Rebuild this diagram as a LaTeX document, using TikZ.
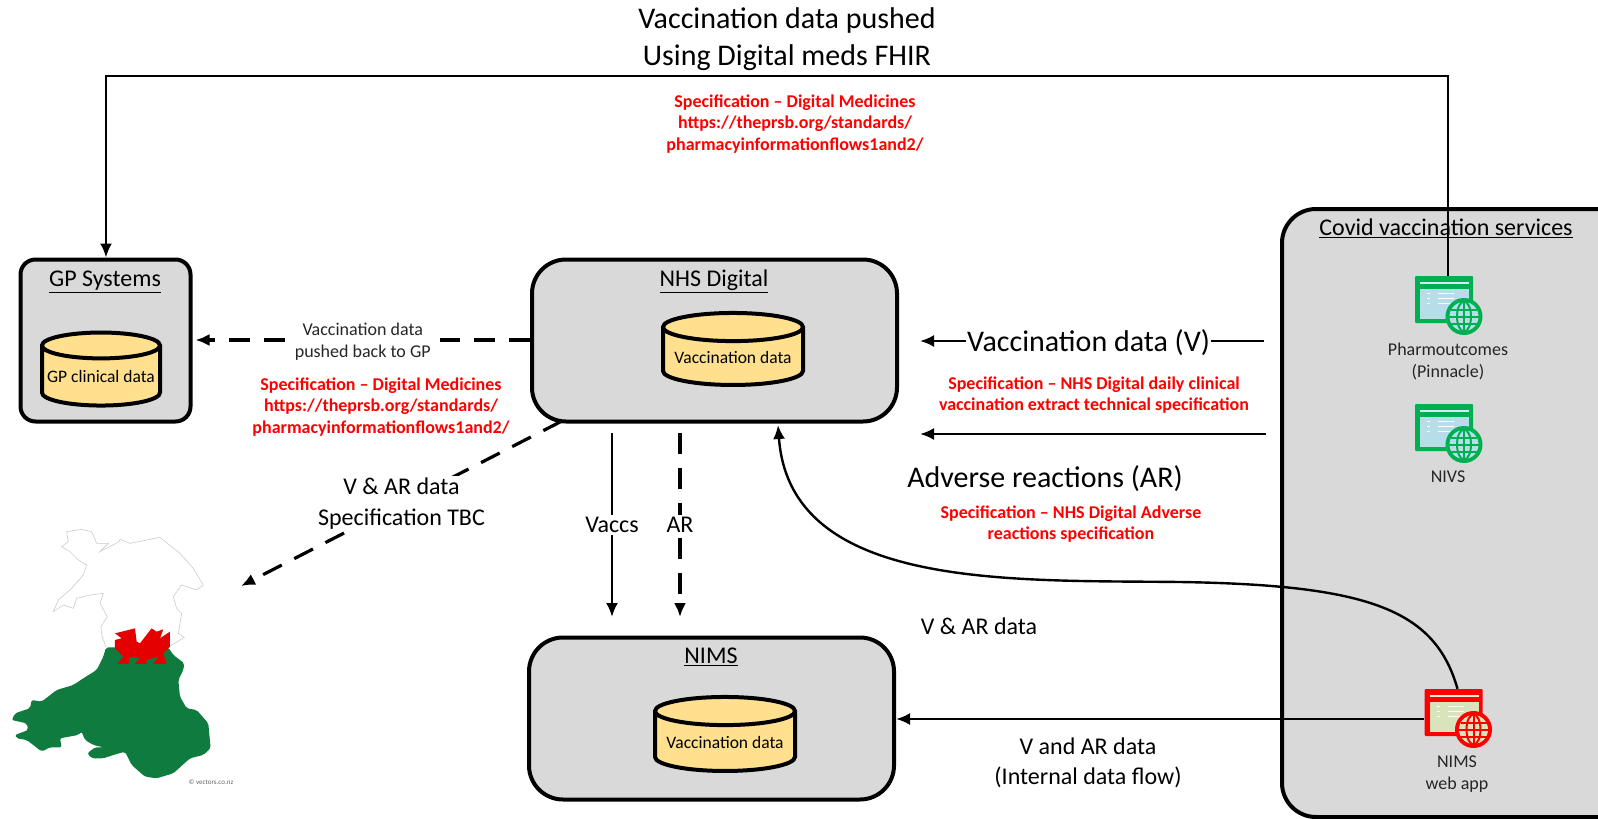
\documentclass[tikz,border=0pt]{standalone}
\usepackage{fontspec}
\setmainfont{Carlito}
\usetikzlibrary{arrows.meta}
\usetikzlibrary{shapes}
\definecolor{boxgrey}{HTML}{D9D9D9}
\definecolor{dbyellow}{HTML}{FFE08F}
\definecolor{appgreen}{HTML}{00B050}
\definecolor{panegreen}{HTML}{B6DDE8}
\definecolor{panered}{HTML}{D8E4BC}
\definecolor{walesgreen}{HTML}{0F7B3E}
\tikzset{
    sysbox/.style={draw, line width=4pt, fill=boxgrey, inner sep=0pt},
    dbstore/.style={draw, line width=4pt, fill=dbyellow, shape=cylinder, shape border rotate=90, shape aspect=0.24, inner sep=0pt, font=\fontsize{17.5}{21}\selectfont},
    boxtitle/.style={font=\fontsize{24}{28}\selectfont},
    smalltext/.style={align=center, font=\fontsize{18}{22}\selectfont, inner sep=1pt, text=black!85},
    midtext/.style={align=center, font=\fontsize{24}{31}\selectfont, inner sep=2pt},
    bigtext/.style={align=center, font=\fontsize{30}{37}\selectfont, inner sep=2pt},
    spectext/.style={align=center, text=red, font=\bfseries\fontsize{18}{21.5}\selectfont},
    flow/.style={-{Latex[length=14pt,width=12pt]}, line width=2.4pt},
    dashflow/.style={-{Latex[length=14pt,width=12pt]}, line width=3.2pt, dash pattern=on 21pt off 14pt},
}
% web application icon: name, x, y, colour, pane colour
\newcommand{\webicon}[5]{
    \node[rectangle, fill=#4, minimum width=58pt, minimum height=47pt, inner sep=0pt, rounded corners=1pt] (#1) at (#2,#3) {};
    \begin{scope}[shift={(#2,#3)}]
        \fill[#5] (-24,-11) rectangle (25,19);
        \fill[#5!60!white] (-24,-18) rectangle (25,-16);
        \fill[white] (-6,-7) rectangle (10,-6);
        \fill[white] (-6,-2) rectangle (10,-1);
        \fill[white] (-6,3) rectangle (10,4);
        \fill[white] (-17,-7) rectangle (-14,-6);
        \fill[white] (-17,-2) rectangle (-14,-1);
        \fill[white] (-17,3) rectangle (-14,4);
        % globe
        \fill[#4] (20,17) circle (18.5);
        \fill[#5] (20,17) circle (14.5);
        \draw[#4, line width=2pt] (20,17) ellipse (7 and 15);
        \draw[#4, line width=2pt] (20,2) -- (20,32);
        \draw[#4, line width=2pt] (5,17) -- (35,17);
        \draw[#4, line width=2pt] (7,10) -- (33,10);
        \draw[#4, line width=2pt] (7,24) -- (33,24);
    \end{scope}
}
\begin{document}
\begin{tikzpicture}[x=1pt,y=-1pt]
    \useasboundingbox (0,0) rectangle (1598,819);
    \clip (0,0) rectangle (1598,819);
    \fill[white] (0,0) rectangle (1598,819);

    % The system boxes
    \node[sysbox, rounded corners=15pt, minimum width=170pt, minimum height=162pt] (gpbox) at (105.5,340.5) {};
    \node[sysbox, rounded corners=34pt, minimum width=365pt, minimum height=162pt] (nhsbox) at (714.5,340.5) {};
    \node[sysbox, rounded corners=34pt, minimum width=365pt, minimum height=162pt] (nimsbox) at (711.5,718.5) {};
    \node[sysbox, rounded corners=34pt, minimum width=364pt, minimum height=608pt] (covidbox) at (1464,513) {};

    % The box titles
    \node[boxtitle] (gptitle) at (105,282) {\underline{GP Systems}};
    \node[boxtitle] (nhstitle) at (714,281) {\underline{NHS Digital}};
    \node[boxtitle] (nimstitle) at (711,657) {\underline{NIMS}};
    \node[boxtitle] (covidtitle) at (1446,228) {\underline{Covid vaccination services}};

    % The data stores
    \node[dbstore, minimum width=118pt, minimum height=73pt] (gpdata) at (101,376.5) {GP clinical data};
    \node[dbstore, minimum width=140pt, minimum height=72pt] (nhsdata) at (733,357) {Vaccination data};
    \node[dbstore, minimum width=140pt, minimum height=74pt] (nimsdata) at (725,742) {Vaccination data};

    % The web apps
    \webicon{pharmapp}{1444}{299.5}{appgreen}{panegreen}
    \webicon{nivsapp}{1444}{427.5}{appgreen}{panegreen}
    \webicon{nimsapp}{1453.5}{712.5}{red}{panered}
    \node[smalltext] (pharmlabel) at (1448,361) {Pharmoutcomes\\(Pinnacle)};
    \node[smalltext] (nivslabel) at (1448,477) {NIVS};
    \node[smalltext] (nimslabel) at (1457,774) {NIMS\\web app};

    % Wales
    \begin{scope}[shift={(0,510)}, x=0.3333pt, y=-0.3333pt]
        \draw[black!20, line width=0.6pt, fill=white] (318,412) -- (305,375) -- (303,350) -- (322,320) -- (300,280) -- (310,250) -- (270,255) -- (230,265) -- (220,295) -- (190,285) -- (160,305) -- (175,270) -- (215,235) -- (250,195) -- (260,165) -- (235,150) -- (210,125) -- (185,110) -- (205,95) -- (200,65) -- (245,58) -- (275,65) -- (290,100) -- (325,100) -- (300,125) -- (358,95) -- (360,88) -- (390,100) -- (480,82) -- (540,130) -- (580,175) -- (610,225) -- (590,240) -- (545,225) -- (520,260) -- (530,295) -- (545,310) -- (535,370) -- (553,382) -- (505,412);
        \fill[walesgreen, rounded corners=2pt] (318,412) -- (505,412) -- (520,435) -- (553,460) -- (550,480) -- (535,510) -- (540,560) -- (560,595) -- (590,600) -- (625,640) -- (632,715) -- (610,735) -- (570,745) -- (520,790) -- (470,805) -- (435,800) -- (395,765) -- (375,725) -- (340,735) -- (310,745) -- (275,745) -- (262,730) -- (285,712) -- (310,712) -- (280,705) -- (255,690) -- (245,665) -- (235,675) -- (180,685) -- (185,712) -- (150,712) -- (125,725) -- (100,705) -- (80,690) -- (50,685) -- (45,675) -- (85,660) -- (80,640) -- (35,630) -- (45,610) -- (90,595) -- (95,570) -- (125,575) -- (170,540) -- (220,525) -- (250,505) -- (290,480) -- (310,440) -- cycle;
        % dragon
        \fill[red!90!black] (345,370) -- (405,355) -- (410,395) -- (420,400) -- (455,355) -- (470,365) -- (490,358) -- (480,385) -- (510,365) -- (510,410) -- (490,430) -- (500,462) -- (460,462) -- (475,440) -- (440,450) -- (440,462) -- (405,462) -- (420,445) -- (390,440) -- (385,462) -- (352,462) -- (370,440) -- (345,415) -- (345,390) -- (365,385) -- cycle;
    \end{scope}
    \node[font=\fontsize{7}{8}\selectfont, text=black!60, inner sep=0pt] (walesnote) at (211,782) {© vectors.co.nz};

    % Free ends of the connectors
    \coordinate (walestip) at (241,586);
    \coordinate (nhsleft) at (562,421);
    \coordinate (vaccstop) at (612,433);
    \coordinate (vaccsend) at (612,617);
    \coordinate (artop) at (680,433);
    \coordinate (arend) at (680,617);
    \coordinate (vstart) at (1264,341);
    \coordinate (vend) at (920,341);
    \coordinate (adrstart) at (1266,434);
    \coordinate (adrend) at (920,434);
    \coordinate (gpcorner) at (106,76);
    \coordinate (pharmcorner) at (1448,76);
    \coordinate (curvetip) at (778,425);
    \coordinate (curvemid) at (1180,582);

    % Vaccination data pushed to the GP systems
    \draw[flow] ([xshift=4pt]pharmapp.north) -- (pharmcorner) -- (gpcorner) -- (gpbox.north -| gpcorner);

    % NHS Digital back to GP
    \draw[dashflow] (nhsbox.west |- 0,340) -- node[smalltext, fill=white, inner xsep=9pt, inner ysep=0pt, yshift=-2pt] (gpback) {Vaccination data\\pushed back to GP} ([xshift=3pt]gpbox.east |- 0,340);

    % NHS Digital to Wales
    \draw[dashflow] (nhsleft) -- node[midtext, fill=white, pos=0.5] (waleslabel) {V \& AR data\\Specification TBC} (walestip);

    % NHS Digital to NIMS
    \draw[flow] (vaccstop) -- node[midtext, fill=white] (vaccslabel) {Vaccs} (vaccsend);
    \draw[dashflow] (artop) -- node[midtext, fill=white] (arlabel) {AR} (arend);

    % Services to NHS Digital
    \draw[flow] (vstart) -- node[bigtext, fill=white, inner sep=1pt, pos=0.51, yshift=-2pt] (vlabel) {Vaccination data (V)} (vend);
    \draw[flow] (adrstart) -- (adrend);
    \node[bigtext] (adrlabel) at (1045,479) {Adverse reactions (AR)};

    % Web app to NHS Digital and NIMS
    \draw[flow] ([xshift=4pt]nimsapp.north) .. controls (1435,610) and (1370,585) .. (curvemid) .. controls (1010,580) and (790,590) .. (curvetip);
    \draw[flow] (nimsapp.west |- 0,719) -- (nimsbox.east |- 0,719);

    % Other labels
    \node[bigtext] (toplabel) at (787,39) {Vaccination data pushed\\Using Digital meds FHIR};
    \node[midtext] (vardata) at (979,626) {V \& AR data};
    \node[midtext, font=\fontsize{24}{30}\selectfont] (internal) at (1088,763) {V and AR data\\(Internal data flow)};

    % The specifications
    \node[spectext] (spectop) at (795,124) {Specification – Digital Medicines\\https://theprsb.org/standards/\\pharmacyinformationflows1and2/};
    \node[spectext] (specgp) at (381,407) {Specification – Digital Medicines\\https://theprsb.org/standards/\\pharmacyinformationflows1and2/};
    \node[spectext] (specv) at (1094,395) {Specification – NHS Digital daily clinical\\vaccination extract technical specification};
    \node[spectext] (specar) at (1071,524) {Specification – NHS Digital Adverse\\reactions specification};
\end{tikzpicture}
\end{document}
